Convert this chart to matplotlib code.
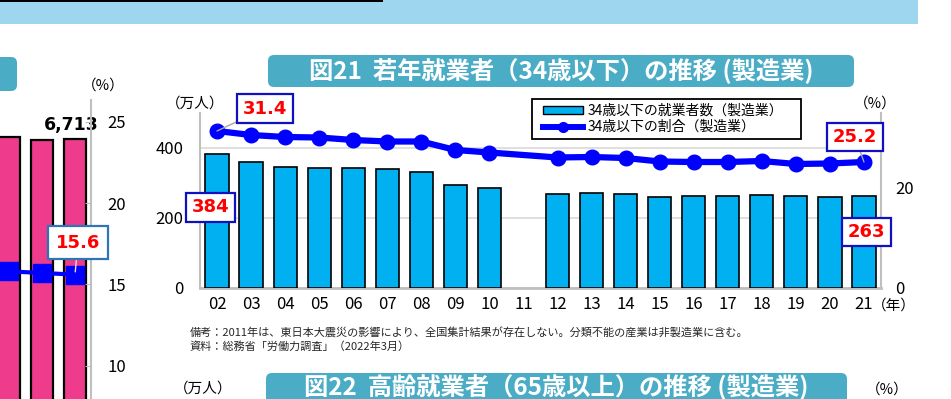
import numpy as np
import matplotlib
matplotlib.use('Agg')
import matplotlib.pyplot as plt
from matplotlib.patches import Rectangle, FancyBboxPatch
from matplotlib.lines import Line2D

plt.rcParams['font.family'] = ['Noto Sans CJK JP', 'DejaVu Sans']

# ---------------- data ----------------
years = ['02', '03', '04', '05', '06', '07', '08', '09', '10', '11',
         '12', '13', '14', '15', '16', '17', '18', '19', '20', '21']
workers = [384, 360, 346, 342, 342, 340, 332, 295, 285, None,
           268, 271, 268, 261, 263, 263, 267, 264, 261, 263]
share = [31.4, 30.6, 30.2, 30.1, 29.6, 29.3, 29.3, 27.6, 27.1, None,
         26.1, 26.2, 26.0, 25.3, 25.2, 25.2, 25.4, 24.8, 24.9, 25.2]
bar_label = '34歳以下の就業者数（製造業）'
line_label = '34歳以下の割合（製造業）'

# partial neighbouring chart (left edge of screenshot)
left_bars = [6740, 6710, 6713]
left_share = [15.8, 15.7, 15.6]

W, H = 951, 399


def fx(x):
    return x / W


def fy(y):
    return 1 - y / H


fig = plt.figure(figsize=(W / 100, H / 100), dpi=100)

# ---------------- background / decorations ----------------
bg = fig.add_axes([0, 0, 1, 1], zorder=-10)
bg.set_xlim(0, W)
bg.set_ylim(H, 0)
bg.axis('off')
bg.add_patch(Rectangle((0, 0), 918, 24, color='#9dd6ee', lw=0))
bg.add_patch(Rectangle((0, 0), 383, 1.8, color='black', lw=0))
teal = '#4bacc6'
for (x0, y0, w, h) in [(268, 55, 586, 32), (266, 373, 581, 40), (-20, 57, 37, 34)]:
    bg.add_patch(FancyBboxPatch((x0, y0), w, h,
                                boxstyle='round,pad=0,rounding_size=6',
                                fc=teal, ec='none'))
bg.text(561, 71.5, '図21  若年就業者（34歳以下）の推移 (製造業)', color='white',
        fontsize=17.5, fontweight='bold', ha='center', va='center')
bg.text(556, 387, '図22  高齢就業者（65歳以上）の推移 (製造業)', color='white',
        fontsize=17.5, fontweight='bold', ha='center', va='center')

bg.text(190, 333, '備考：2011年は、東日本大震災の影響により、全国集計結果が存在しない。分類不能の産業は非製造業に含む。',
        fontsize=8, ha='left', va='center', color='#262626')
bg.text(190, 347, '資料：総務省「労働力調査」（2022年3月）',
        fontsize=8, ha='left', va='center', color='#262626')

bg.text(195, 104, '（万人）', fontsize=10.5, ha='center', va='center')
bg.text(875, 104, '（%）', fontsize=10.5, ha='center', va='center')
bg.text(894, 306, '（年）', fontsize=10.5, ha='center', va='center')
bg.text(103, 86, '（%）', fontsize=10.5, ha='center', va='center')
bg.text(203, 389, '（万人）', fontsize=10.5, ha='center', va='center')
bg.text(887, 390, '（%）', fontsize=10.5, ha='center', va='center')

grey = '#bfbfbf'

# ---------------- left partial chart ----------------
axB = fig.add_axes([0, 0, 91 / W, 299 / H])
axB.set_facecolor('none')
xl = np.arange(len(left_bars))
axB.bar(xl, left_bars, width=0.667, color='#ee3b8b', edgecolor='black', linewidth=1.6)
axB.set_xlim(-0.273, 2.485)
axB.set_ylim(3500, 7200)
for s in axB.spines.values():
    s.set_visible(False)
axB.set_xticks([])
axB.set_yticks([])
axB.annotate(f'{left_bars[-1]:,}', xy=(xl[-1], left_bars[-1]), xytext=(-4, 14),
             textcoords='offset pixels', ha='center', va='center',
             fontsize=12.5, fontweight='bold', family='DejaVu Sans', annotation_clip=False)

axP = axB.twinx()
axP.set_ylim(7.957, 26.33)
axP.set_yticks([10, 15, 20, 25])
axP.plot(xl, left_share, color='#0000ff', lw=3, marker='s', ms=13)
for k, s in axP.spines.items():
    s.set_visible(k == 'right')
axP.spines['right'].set_color(grey)
axP.spines['right'].set_linewidth(1.5)
axP.tick_params(axis='y', direction='in', length=4, color=grey, labelsize=12, pad=12)
axP.annotate(f'{left_share[-1]}', xy=(xl[-1], left_share[-1]), xytext=(3, 32),
             textcoords='offset pixels', ha='center', va='center', color='#ff0000',
             fontsize=13, fontweight='bold', family='DejaVu Sans',
             bbox=dict(boxstyle='square,pad=0.42', fc='white', ec='#2e75b6', lw=1.6),
             arrowprops=dict(arrowstyle='-', color='#e0e0e0', lw=1, shrinkA=0, shrinkB=2))

# ---------------- main chart ----------------
ax = fig.add_axes([fx(200), fy(288), (881 - 200) / W, (288 - 113) / H])
ax.set_facecolor('none')
x = np.arange(len(years))
wv = np.array([np.nan if v is None else v for v in workers], float)
sv = np.array([np.nan if v is None else v for v in share], float)

ax.bar(x, wv, width=0.68, color='#00b0f0', edgecolor='black', linewidth=1.2, zorder=3)
ax.set_xlim(-0.5, len(years) - 0.5)
ax.set_ylim(0, 500)
ax.set_yticks([0, 200, 400])
ax.yaxis.grid(True, color='#d9d9d9', lw=1.2)
ax.set_axisbelow(True)
ax.set_xticks(x, years)
ax.tick_params(length=0, labelsize=12)
ax.tick_params(axis='y', pad=12)
ax.tick_params(axis='x', pad=6)
ax.spines['top'].set_visible(False)
ax.spines['right'].set_visible(False)
for k in ['left', 'bottom']:
    ax.spines[k].set_color(grey)
ax.spines['left'].set_linewidth(1.5)
ax.spines['bottom'].set_linewidth(2)

ax2 = ax.twinx()
ax2.set_ylim(0, 35)
ax2.set_yticks([0, 20])
ax2.tick_params(length=0, labelsize=12, pad=10)
for k, s in ax2.spines.items():
    s.set_visible(k == 'right')
ax2.spines['right'].set_color(grey)
ax2.spines['right'].set_linewidth(1.5)
m = ~np.isnan(sv)
ax2.plot(x[m], sv[m], color='#0000ff', lw=4.5, marker='o', ms=10.5, zorder=3)

box_kw = dict(boxstyle='square,pad=0.3', fc='white', ec='#1010c0', lw=1.6)
lab_kw = dict(textcoords='offset pixels', ha='center', va='center', color='#ff0000',
              fontsize=13, fontweight='bold', family='DejaVu Sans', annotation_clip=False)
ax2.annotate(f'{share[0]}', xy=(x[0], share[0]), xytext=(48, 22.5), bbox=box_kw,
             arrowprops=dict(arrowstyle='-', color='#a6a6a6', lw=1, shrinkA=0, shrinkB=0),
             zorder=5, **lab_kw)
ax2.annotate(f'{share[-1]}', xy=(x[-1], share[-1]), xytext=(-9, 25), bbox=box_kw,
             arrowprops=dict(arrowstyle='-', color='#a6a6a6', lw=1, shrinkA=0, shrinkB=0),
             zorder=5, **lab_kw)
ax2.annotate(f'{workers[0]}', xy=(x[0], workers[0] * 35 / 500), xytext=(-6.5, -53.6),
             bbox=box_kw, zorder=6, **lab_kw)
ax2.annotate(f'{workers[-1]}', xy=(x[-1], workers[-1] * 35 / 500), xytext=(2.5, -36),
             bbox=box_kw, zorder=6, **lab_kw)

# legend
bg.add_patch(Rectangle((532, 99), 269, 40, fc='white', ec='black', lw=1.3, zorder=4))
handles = [Rectangle((0, 0), 1, 1, fc='#00b0f0', ec='black', lw=1.0),
           Line2D([], [], color='#0000ff', lw=4.3, marker='o', ms=7)]
leg = fig.legend(handles, [bar_label, line_label], loc='upper left',
                 bbox_to_anchor=(fx(543), fy(104)), bbox_transform=fig.transFigure,
                 frameon=False, fontsize=10, handlelength=2.9, handletextpad=0.3,
                 borderpad=0, borderaxespad=0, labelspacing=0.15, handleheight=0.5)

fig.savefig('out.png', dpi=100)
